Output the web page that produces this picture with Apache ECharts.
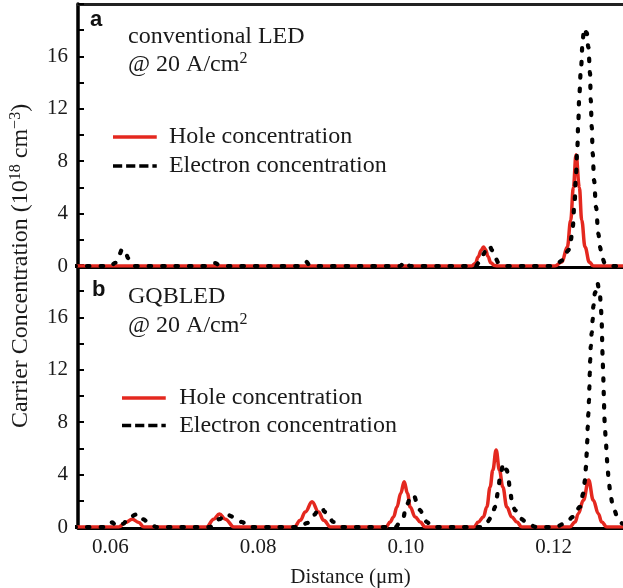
<!DOCTYPE html>
<html>
<head>
<meta charset="utf-8">
<script src="https://cdn.jsdelivr.net/npm/echarts@6.0.0/dist/echarts.min.js"></script>
<style>
  html, body { margin: 0; padding: 0; background: #fff; }
  #chart { width: 623px; height: 588px; }
</style>
</head>
<body>
<div id="chart"></div>
<script>
// Distance axis labels (µm)
const distanceTicks = [0.06, 0.08, 0.10, 0.12];

// (a) conventional LED, carrier concentration in 1e18 cm^-3 vs distance in µm
const holeA = [
  [0.0550, 0], [0.1089, 0], [0.1094, 0.2], [0.1098, 0.7], [0.1102, 1.2], [0.1105, 1.45],
  [0.1108, 1.25], [0.1111, 0.75], [0.1115, 0.25], [0.1120, 0.03], [0.1124, 0],
  [0.1202, 0], [0.12111, 0.3], [0.12186, 1.45], [0.12232, 3.5], [0.12268, 6.0], [0.12304, 8.5],
  [0.12349, 6.0], [0.12381, 3.5], [0.12426, 1.45], [0.12484, 0.3], [0.12538, 0], [0.1300, 0]
];
const electronA = [
  [0.0550, 0], [0.0600, 0], [0.0607, 0.25], [0.0612, 0.9], [0.0616, 1.3], [0.0620, 1.15],
  [0.0624, 0.6], [0.0628, 0.2], [0.0633, 0],
  [0.0736, 0], [0.0742, 0.22], [0.0748, 0],
  [0.0857, 0], [0.0864, 0.35], [0.0871, 0],
  [0.0992, 0], [0.0999, 0.35], [0.1006, 0],
  [0.1094, 0], [0.1100, 0.3], [0.1105, 0.9], [0.1109, 1.4], [0.1113, 1.55], [0.1117, 1.2],
  [0.1121, 0.6], [0.1126, 0.2], [0.1132, 0],
  [0.1200, 0], [0.12132, 0.44], [0.12200, 1.2], [0.12232, 1.96], [0.12259, 2.98], [0.12285, 5.0],
  [0.12304, 7.06], [0.12322, 9.1], [0.12335, 11.1], [0.12349, 13.2], [0.12372, 15.2], [0.12395, 17.3],
  [0.12412, 18.15], [0.12449, 17.8], [0.12471, 16.7], [0.12494, 14.7], [0.12503, 12.7], [0.12517, 10.6],
  [0.12530, 8.6], [0.12548, 6.55], [0.12575, 4.5], [0.12606, 2.47], [0.12629, 1.45], [0.12652, 0.69],
  [0.12700, 0.15], [0.12740, 0], [0.1300, 0]
];

// (b) GQBLED
const holeB = [
  [0.0550, 0], [0.0611, 0], [0.06203, 0.35], [0.06294, 0.6], [0.06383, 0.35], [0.0645, 0],
  [0.0730, 0], [0.07398, 0.6], [0.07475, 1.0], [0.07556, 0.6], [0.0767, 0],
  [0.0849, 0], [0.08570, 0.51], [0.08638, 1.15], [0.08729, 1.92], [0.08818, 1.15], [0.08886, 0.51], [0.0898, 0],
  [0.0973, 0], [0.09788, 0.38], [0.09833, 0.77], [0.09879, 1.53], [0.09929, 2.56], [0.09977, 3.45],
  [0.10022, 2.56], [0.10058, 1.53], [0.10126, 0.77], [0.10194, 0.38], [0.1026, 0],
  [0.1092, 0], [0.10982, 0.38], [0.11050, 0.77], [0.11096, 1.53], [0.11141, 3.06], [0.11177, 4.34],
  [0.11222, 5.87], [0.11267, 4.34], [0.11312, 3.06], [0.11367, 1.53], [0.11434, 0.77], [0.11502, 0.38], [0.1157, 0],
  [0.1222, 0], [0.12291, 0.38], [0.12335, 1.02], [0.12403, 2.04], [0.12475, 3.58], [0.12538, 2.04],
  [0.12606, 1.02], [0.12652, 0.38], [0.1272, 0], [0.1300, 0]
];
const electronB = [
  [0.0550, 0], [0.0597, 0], [0.06023, 0.35], [0.0608, 0.05], [0.0617, 0.25], [0.06248, 0.77],
  [0.06383, 1.0], [0.06429, 0.6], [0.06564, 0.13], [0.0662, 0],
  [0.0735, 0], [0.07393, 0.3], [0.07475, 0.6], [0.07556, 1.0], [0.07668, 0.77], [0.07782, 0.38], [0.0786, 0],
  [0.0858, 0], [0.08660, 0.3], [0.08760, 0.95], [0.08818, 1.35], [0.08864, 1.48], [0.08900, 1.15],
  [0.08953, 0.77], [0.09021, 0.38], [0.0909, 0],
  [0.0986, 0], [0.09923, 0.38], [0.09968, 0.77], [0.09991, 1.28], [0.10022, 1.79], [0.10058, 2.3],
  [0.10103, 2.45], [0.10157, 1.79], [0.10194, 1.28], [0.10238, 0.77], [0.10284, 0.38], [0.1035, 0],
  [0.1104, 0], [0.11096, 0.38], [0.11164, 0.77], [0.11208, 1.53], [0.11231, 2.3], [0.11253, 3.06],
  [0.11276, 3.83], [0.11321, 4.85], [0.11367, 4.34], [0.11389, 3.58], [0.11411, 2.81], [0.11434, 2.05],
  [0.11479, 1.28], [0.11547, 0.64], [0.11637, 0.38], [0.1170, 0.1], [0.1176, 0],
  [0.1202, 0], [0.12155, 0.26], [0.12268, 0.77], [0.12358, 1.53], [0.12403, 2.56], [0.12426, 3.58],
  [0.12439, 4.59], [0.12449, 5.62], [0.12457, 6.64], [0.12462, 7.66], [0.12471, 8.68], [0.12480, 9.70],
  [0.12485, 10.72], [0.12490, 11.74], [0.12496, 12.76], [0.12503, 13.78], [0.12516, 14.81], [0.12530, 15.83],
  [0.12538, 16.85], [0.12561, 17.87], [0.12592, 18.64], [0.12629, 17.6], [0.12642, 16.6], [0.12652, 15.6],
  [0.12656, 14.6], [0.12660, 13.5], [0.12666, 12.5], [0.12673, 11.5], [0.12677, 10.5], [0.12683, 9.4],
  [0.12687, 8.4], [0.12696, 7.4], [0.12710, 6.4], [0.12719, 5.4], [0.12733, 4.3], [0.12750, 3.3],
  [0.12773, 2.3], [0.12809, 1.4], [0.12876, 0.64], [0.12936, 0.26], [0.1300, 0.1]
];

const HOLE = 'Hole concentration';
const ELECTRON = 'Electron concentration';
const SERIF = '"Liberation Serif", "Times New Roman", serif';
const SANS = '"Liberation Sans", Arial, sans-serif';
const INK = '#1a1a1a';
const RED = '#e4281f';
const X_MIN = 0.0556, X_MAX = 0.1294;

// legend glyphs: solid bar and a four-dash bar
const ICON_SOLID = 'path://M0,0H50V4H0Z';
const ICON_DASH = 'path://M0,0h10.5v4h-10.5Z M15,0h10.5v4h-10.5Z M30,0h10.5v4h-10.5Z M45,0h5v4h-5Z';

function yAxisFor(gridIndex) {
  return {
    type: 'value', gridIndex, min: 0, max: 20, interval: 2,
    axisLine: { show: true, lineStyle: { color: '#000', width: 3.5 } },
    axisTick: { show: true, inside: true, length: 6, lineStyle: { color: '#000', width: 2 } },
    axisLabel: {
      margin: 10, color: INK, fontFamily: SERIF, fontSize: 21,
      formatter: v => (v % 4 === 0 && v < 20) ? String(v) : ''
    },
    splitLine: { show: false }
  };
}

function holeSeries(data, idx) {
  return {
    name: HOLE, type: 'line', xAxisIndex: idx === 0 ? 0 : 2, yAxisIndex: idx, data,
    showSymbol: false, symbol: 'none', smooth: 0.4, smoothMonotone: 'x',
    color: RED, lineStyle: { color: RED, width: 3.5 }
  };
}
function electronSeries(data, idx) {
  return {
    name: ELECTRON, type: 'line', xAxisIndex: idx === 0 ? 0 : 2, yAxisIndex: idx, data,
    showSymbol: false, symbol: 'none', smooth: 0.4, smoothMonotone: 'x',
    color: '#000', lineStyle: { color: '#000', width: 4.2, type: [2.5, 11], cap: 'round' }
  };
}

function legendAt(left, top, width, gap, textPad) {
  return {
    left, top, orient: 'vertical', padding: 0, itemGap: gap,
    itemWidth: width, itemHeight: 3.5,
    itemStyle: { borderWidth: 0 },
    textStyle: { fontFamily: SERIF, fontSize: 24, color: INK, lineHeight: 24, padding: [0, 0, 0, textPad] },
    data: [
      { name: HOLE, icon: ICON_SOLID },
      { name: ELECTRON, icon: ICON_DASH }
    ]
  };
}

const supRich = {
  t: { fontFamily: SERIF, fontSize: 24, fill: INK, lineHeight: 28 },
  s: { fontFamily: SERIF, fontSize: 16, fill: INK, lineHeight: 16, verticalAlign: 'top' }
};

const option = {
  animation: false,
  backgroundColor: '#fff',
  grid: [
    { left: 78, top: 4, right: 0, height: 262, containLabel: false, outerBoundsMode: 'none' },
    { left: 78, top: 265, right: 0, height: 262, containLabel: false, outerBoundsMode: 'none' }
  ],
  xAxis: [
    {
      type: 'value', gridIndex: 0, min: X_MIN, max: X_MAX, offset: 1.5,
      axisLine: { onZero: false, lineStyle: { color: '#000', width: 3 } },
      axisTick: { show: false }, axisLabel: { show: false }, splitLine: { show: false }
    },
    {
      type: 'value', gridIndex: 0, position: 'top', min: X_MIN, max: X_MAX,
      axisLine: { onZero: false, lineStyle: { color: '#222', width: 3 } },
      axisTick: { show: false }, axisLabel: { show: false }, splitLine: { show: false }
    },
    {
      type: 'value', gridIndex: 1, min: X_MIN, max: X_MAX, offset: 1.5,
      axisLine: { onZero: false, lineStyle: { color: '#000', width: 3 } },
      axisTick: { show: false },
      axisLabel: {
        customValues: distanceTicks, formatter: v => v.toFixed(2),
        margin: 8, color: INK, fontFamily: SERIF, fontSize: 21
      },
      splitLine: { show: false },
      name: 'Distance (μm)', nameLocation: 'middle', nameGap: 38,
      nameTextStyle: { fontFamily: SERIF, fontSize: 21, color: INK }
    }
  ],
  yAxis: [yAxisFor(0), yAxisFor(1)],
  legend: [
    legendAt(113, 125, 50, 5, 4),
    legendAt(122, 386, 46.5, 3.5, 7)
  ],
  series: [
    holeSeries(holeA, 0), electronSeries(electronA, 0),
    holeSeries(holeB, 1), electronSeries(electronB, 1)
  ],
  graphic: [
    { type: 'text', x: 90, y: 20, style: { text: 'a', fontFamily: SANS, fontWeight: 'bold', fontSize: 22, fill: '#111', verticalAlign: 'middle' } },
    { type: 'text', x: 128, y: 37, style: { text: 'conventional LED', fontFamily: SERIF, fontSize: 24, fill: INK, verticalAlign: 'middle' } },
    { type: 'text', x: 128, y: 65, style: { text: '{t|@ 20 A/cm}{s|2}', verticalAlign: 'middle', rich: supRich } },
    { type: 'text', x: 92, y: 290, style: { text: 'b', fontFamily: SANS, fontWeight: 'bold', fontSize: 22, fill: '#111', verticalAlign: 'middle' } },
    { type: 'text', x: 128, y: 297, style: { text: 'GQBLED', fontFamily: SERIF, fontSize: 24, fill: INK, verticalAlign: 'middle' } },
    { type: 'text', x: 128, y: 326, style: { text: '{t|@ 20 A/cm}{s|2}', verticalAlign: 'middle', rich: supRich } },
    {
      type: 'text', x: 21, y: 266, rotation: Math.PI / 2,
      style: {
        text: '{t|Carrier Concentration (10}{s|18}{t| cm}{s|−3}{t|)}',
        align: 'center', verticalAlign: 'middle',
        rich: {
          t: { fontFamily: SERIF, fontSize: 24, fill: INK, lineHeight: 27 },
          s: { fontFamily: SERIF, fontSize: 16, fill: INK, lineHeight: 16, verticalAlign: 'top' }
        }
      }
    }
  ]
};

const chart = echarts.init(document.getElementById('chart'));
chart.setOption(option);
</script>
</body>
</html>
